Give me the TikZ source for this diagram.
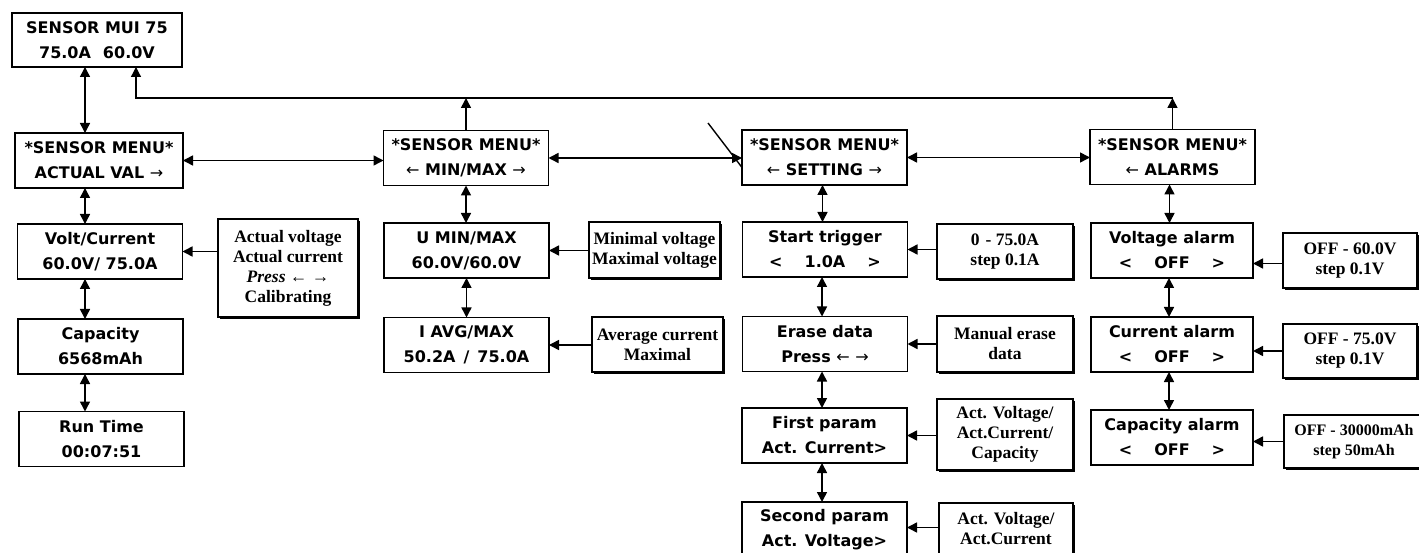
\documentclass[tikz,border=0pt]{standalone}
\usepackage{fontspec}
\usetikzlibrary{arrows.meta,shadows}
\newfontfamily\lcdfont{DejaVu Sans}
\newfontfamily\notefont{Liberation Serif}
\newcommand\myL{{\mdseries ←}}
\newcommand\myR{{\mdseries →}}
\tikzset{
  lcd/.style={draw, line width=1.5pt, inner sep=0pt, outer sep=0pt, align=center,
    font=\lcdfont\bfseries\fontsize{16}{25}\selectfont,
    minimum width=165pt, minimum height=55pt},
  note/.style={draw, line width=1.3pt, fill=white, inner sep=0pt, outer sep=0pt, align=center,
    drop shadow={shadow xshift=2pt, shadow yshift=-2pt, fill=black, opacity=1},
    font=\notefont\bfseries\fontsize{17.5}{20}\selectfont},
  tip/.tip={Triangle[length=10pt,width=10pt]},
  conn/.style={line width=1.5pt, -tip},
  dbl/.style={line width=1.5pt, tip-tip},
  busline/.style={line width=1.3pt}
}
\begin{document}
\begin{tikzpicture}[x=1pt,y=-1pt]
\fill[white] (0,0) rectangle (1419,553);
\useasboundingbox (0,0) rectangle (1419,553);

% top display
\node[lcd, minimum width=170pt, minimum height=54pt] (top) at (97,40) {SENSOR MUI 75\\75.0A\hspace{12pt}60.0V};

% menu row
\node[lcd, minimum width=168pt] (av) at (99,160.5) {*SENSOR MENU*\\ACTUAL VAL \myR};
\node[lcd] (mm) at (466,158) {*SENSOR MENU*\\\myL{} MIN/MAX \myR};
\node[lcd] (st) at (824.5,157.5) {*SENSOR MENU*\\\myL{} SETTING \myR};
\node[lcd] (al) at (1172.5,157) {*SENSOR MENU*\\\myL{} ALARMS};

% column 1
\node[lcd] (vc) at (100,251.5) {Volt/Current\\60.0V/ 75.0A};
\node[lcd] (cap) at (100.5,346.5) {Capacity\\6568mAh};
\node[lcd] (rt) at (101.5,439) {Run Time\\00:07:51};
\node[note, minimum width=140pt, minimum height=98pt] (n1) at (288,268) {Actual voltage\\Actual current\\\textit{Press} ← →\\Calibrating};

% column 2
\node[lcd] (umm) at (466.5,250.5) {U MIN/MAX\\60.0V/60.0V};
\node[lcd] (iavg) at (466.5,345) {I AVG/MAX\\50.2A\hspace{8pt}/\hspace{8pt}75.0A};
\node[note, minimum width=131pt, minimum height=56pt] (n2) at (654.5,250) {Minimal voltage\\Maximal voltage};
\node[note, minimum width=131pt, minimum height=55pt] (n3) at (657.5,344.5) {Average current\\Maximal};

% column 3
\node[lcd] (stt) at (825,249.5) {Start trigger\\<\hspace{22pt}1.0A\hspace{22pt}>};
\node[lcd] (er) at (825,344) {Erase data\\Press \myL{} \myR};
\node[lcd] (fp) at (824.5,435.5) {First param\\Act. Current>};
\node[lcd] (sp) at (824.5,529.5) {Second param\\Act. Voltage>};
\node[note, minimum width=136pt, minimum height=55pt] (n4) at (1005,251.5) {0\hspace{6pt}- 75.0A\\step 0.1A};
\node[note, minimum width=136pt, minimum height=56pt] (n5) at (1005,344) {Manual erase\\data};
\node[note, minimum width=136pt, minimum height=71pt] (n6) at (1005,434.5) {Act. Voltage/\\Act.Current/\\Capacity};
\node[note, minimum width=134pt, minimum height=52pt] (n7) at (1006,529) {Act. Voltage/\\Act.Current};

% column 4
\node[lcd, minimum width=162pt] (va) at (1172,250.5) {Voltage alarm\\<\hspace{22pt}OFF\hspace{22pt}>};
\node[lcd, minimum width=162pt] (ca) at (1172,344.5) {Current alarm\\<\hspace{22pt}OFF\hspace{22pt}>};
\node[lcd, minimum width=162pt] (cpa) at (1172,437.5) {Capacity alarm\\<\hspace{22pt}OFF\hspace{22pt}>};
\node[note, minimum width=134pt, minimum height=55pt] (n8) at (1350,260.5) {OFF - 60.0V\\step 0.1V};
\node[note, minimum width=134pt, minimum height=54pt] (n9) at (1350,351) {OFF - 75.0V\\step 0.1V};
\node[note, minimum width=140pt, minimum height=53pt, font=\notefont\bfseries\fontsize{16}{20}\selectfont] (n10) at (1354,441.5) {OFF - 30000mAh\\step 50mAh};

% top connections
\draw[dbl] ([xshift=-12pt]top.south) -- ([xshift=-12pt]top.south |- av.north);
\coordinate (busL) at (136,98);
\draw[busline, -tip] (al.north |- busL) -- (busL) -- (busL |- top.south);
\draw[conn] (al.north) -- (al.north |- busL);
\draw[conn] (mm.north) -- (mm.north |- busL);

% menu row
\draw[dbl] (av.east) -- (av.east -| mm.west);
\draw[dbl] (mm.east) -- (mm.east -| st.west);
\draw[dbl] (st.east) -- (st.east -| al.west);
\coordinate (mk) at (708,123);
\draw[line width=1.4pt] (mk) -- ([yshift=-10pt]st.west);

% column 1
\draw[dbl] ([xshift=-14pt]av.south) -- ([xshift=-14pt]av.south |- vc.north);
\draw[dbl] ([xshift=-15pt]vc.south) -- ([xshift=-15pt]vc.south |- cap.north);
\draw[dbl] ([xshift=-15.5pt]cap.south) -- ([xshift=-15.5pt]cap.south |- rt.north);
\draw[conn] (vc.east -| n1.west) -- (vc.east);

% column 2
\draw[dbl] (mm.south) -- (mm.south |- umm.north);
\draw[dbl] (umm.south) -- (umm.south |- iavg.north);
\draw[conn] (umm.east -| n2.west) -- (umm.east);
\draw[conn] (iavg.east -| n3.west) -- (iavg.east);

% column 3
\draw[dbl] ([xshift=-2pt]st.south) -- ([xshift=-2pt]st.south |- stt.north);
\draw[dbl] ([xshift=-3pt]stt.south) -- ([xshift=-3pt]stt.south |- er.north);
\draw[dbl] ([xshift=-3pt]er.south) -- ([xshift=-3pt]er.south |- fp.north);
\draw[dbl] ([xshift=-2.5pt]fp.south) -- ([xshift=-2.5pt]fp.south |- sp.north);
\draw[conn] (stt.east -| n4.west) -- (stt.east);
\draw[conn] (er.east -| n5.west) -- (er.east);
\draw[conn] (fp.east -| n6.west) -- (fp.east);
\draw[conn] ([yshift=2pt]sp.east -| n7.west) -- ([yshift=2pt]sp.east);

% column 4
\draw[dbl] ([xshift=-3pt]al.south) -- ([xshift=-3pt]al.south |- va.north);
\draw[dbl] ([xshift=-3pt]va.south) -- ([xshift=-3pt]va.south |- ca.north);
\draw[dbl] ([xshift=-3pt]ca.south) -- ([xshift=-3pt]ca.south |- cpa.north);
\draw[conn] ([yshift=-3pt]n8.west) -- ([yshift=-3pt]n8.west -| va.east);
\draw[conn] (n9.west) -- (n9.west -| ca.east);
\draw[conn] (n10.west) -- (n10.west -| cpa.east);
\end{tikzpicture}
\end{document}
